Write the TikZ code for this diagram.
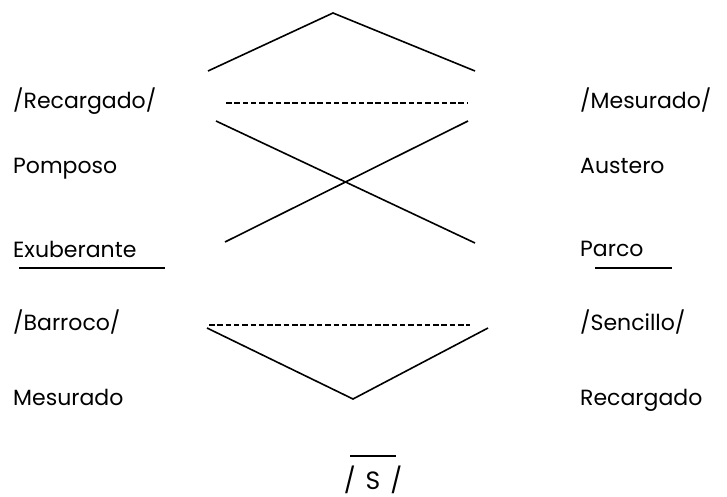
\documentclass[tikz,border=0pt]{standalone}
\usepackage{fontspec}
\setmainfont{Poppins}
\begin{document}
\begin{tikzpicture}[x=1pt,y=-1pt,
  lbl/.style={anchor=base west,inner sep=0pt,font=\fontsize{22}{26}\selectfont},
  ln/.style={line width=1.6pt,black},
  dsh/.style={line width=1.9pt,black,dash pattern=on 5.5pt off 2.8pt}]
\useasboundingbox (0,0) rectangle (727,497);
% left labels
\node[lbl] (rec) at (13,109) {/Recargado/};
\node[lbl] (pom) at (13,173) {Pomposo};
\node[lbl] (exu) at (13,257) {Exuberante};
\node[lbl] (bar) at (13,330) {/Barroco/};
\node[lbl] (mesl) at (13,405) {Mesurado};
% right labels
\node[lbl] (mes) at (580,109) {/Mesurado/};
\node[lbl] (aus) at (580,173) {Austero};
\node[lbl] (par) at (580,256) {Parco};
\node[lbl] (sen) at (580,330) {/Sencillo/};
\node[lbl] (recr) at (580,405) {Recargado};
% bottom
\node[anchor=base,inner sep=0pt,font=\fontsize{25}{30}\selectfont] (s) at (373,489) {/\hspace{10pt}S\hspace{10pt}/};
% coordinates
\coordinate (apex) at (333,13);
\coordinate (tl) at (208,71);
\coordinate (tr) at (475,71);
\coordinate (d1a) at (226,103);
\coordinate (d1b) at (467,103);
\coordinate (x1a) at (216,121);
\coordinate (x1b) at (475,243);
\coordinate (x2a) at (225,242);
\coordinate (x2b) at (468,121);
\coordinate (d2a) at (209,325);
\coordinate (d2b) at (470,325);
\coordinate (vl) at (207,328);
\coordinate (vb) at (353,399);
\coordinate (vr) at (488,328);
\coordinate (ul1) at (19,268);
\coordinate (ul2) at (165,268);
\coordinate (ur1) at (595,268);
\coordinate (ur2) at (672,268);
\coordinate (o1) at (350,456);
\coordinate (o2) at (396,456);
% lines
\draw[ln] (tl) -- (apex) -- (tr);
\draw[dsh] (d1a) -- (d1b);
\draw[ln] (x1a) -- (x1b);
\draw[ln] (x2a) -- (x2b);
\draw[dsh] (d2a) -- (d2b);
\draw[ln] (vl) -- (vb) -- (vr);
\draw[ln] (ul1) -- (ul2);
\draw[ln] (ur1) -- (ur2);
\draw[ln] (o1) -- (o2);
\end{tikzpicture}
\end{document}
